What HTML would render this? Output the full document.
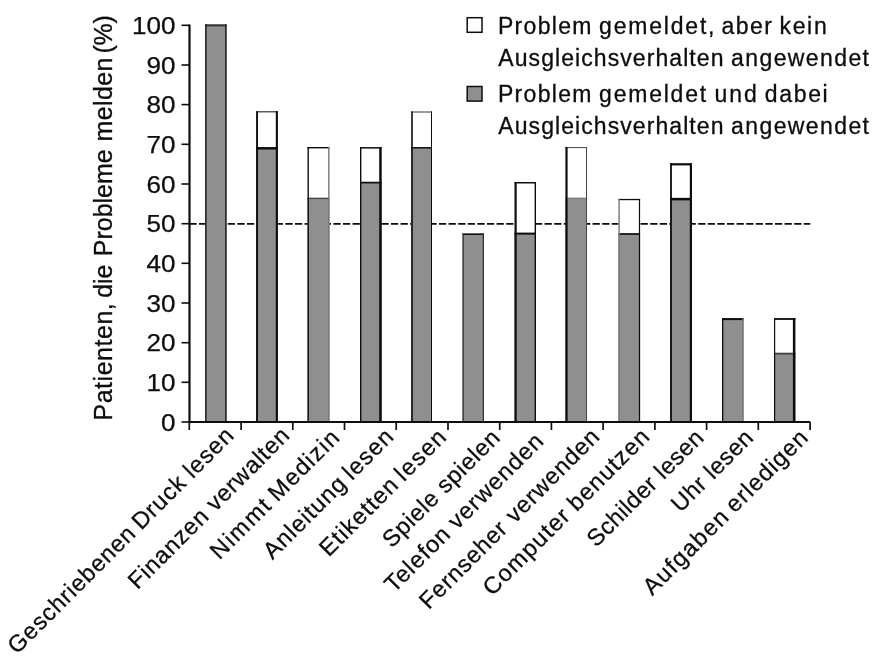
<!DOCTYPE html>
<html lang="de"><head><meta charset="utf-8"><title>Diagramm</title>
<style>
html,body{margin:0;padding:0;background:#fff}
svg{display:block;will-change:transform}
text{font-family:"Liberation Sans",Arial,Helvetica,sans-serif;fill:#0d0d0d;white-space:pre}
.tk{font-size:24.5px;text-anchor:end;stroke:#0d0d0d;stroke-width:0.25px}
.lg,.xl,.yt{stroke:#0d0d0d;stroke-width:0.3px}
.lg{font-size:23px}
.xl{font-size:23.5px}
.yt{font-size:25px}
</style></head><body>
<svg width="886" height="672" viewBox="0 0 886 672">
<rect width="886" height="672" fill="#fff"/>
<line x1="189.35" y1="223.9" x2="810.3" y2="223.9" stroke="#0d0d0d" stroke-width="1.7" stroke-dasharray="7.3 2.3"/>
<rect x="205.1" y="24.4" width="21.50" height="397.60" fill="#8f8f8f"/>
<rect x="205.1" y="24.4" width="21.50" height="2.0" fill="#333"/>
<rect x="205.1" y="24.4" width="1.5" height="397.60" fill="#222"/>
<rect x="225.10" y="24.4" width="1.5" height="397.60" fill="#222"/>
<rect x="256.1" y="111.2" width="21.80" height="37.10" fill="#fff"/>
<rect x="256.1" y="148.3" width="21.80" height="273.70" fill="#8f8f8f"/>
<rect x="256.1" y="147.05" width="21.80" height="2.5" fill="#0d0d0d"/>
<rect x="256.1" y="111.2" width="21.80" height="1.2" fill="#333"/>
<rect x="256.1" y="111.2" width="1.9" height="310.80" fill="#0d0d0d"/>
<rect x="275.80" y="111.2" width="2.1" height="310.80" fill="#0d0d0d"/>
<rect x="307.5" y="147.0" width="22.00" height="51.40" fill="#fff"/>
<rect x="307.5" y="198.4" width="22.00" height="223.60" fill="#8f8f8f"/>
<rect x="307.5" y="197.70" width="22.00" height="1.4" fill="#444"/>
<rect x="307.5" y="147.0" width="22.00" height="1.4" fill="#0d0d0d"/>
<rect x="307.5" y="147.0" width="1.4" height="275.00" fill="#0d0d0d"/>
<rect x="328.10" y="147.0" width="1.4" height="275.00" fill="#777"/>
<rect x="360.0" y="147.1" width="21.70" height="35.50" fill="#fff"/>
<rect x="360.0" y="182.6" width="21.70" height="239.40" fill="#8f8f8f"/>
<rect x="360.0" y="181.75" width="21.70" height="1.7" fill="#0d0d0d"/>
<rect x="360.0" y="147.1" width="21.70" height="1.5" fill="#0d0d0d"/>
<rect x="360.0" y="147.1" width="1.4" height="274.90" fill="#0d0d0d"/>
<rect x="379.20" y="147.1" width="2.5" height="274.90" fill="#0d0d0d"/>
<rect x="411.2" y="111.4" width="20.80" height="36.40" fill="#fff"/>
<rect x="411.2" y="147.8" width="20.80" height="274.20" fill="#8f8f8f"/>
<rect x="411.2" y="147.05" width="20.80" height="1.5" fill="#0d0d0d"/>
<rect x="411.2" y="111.4" width="20.80" height="1.2" fill="#555"/>
<rect x="411.2" y="111.4" width="1.6" height="310.60" fill="#0d0d0d"/>
<rect x="431.00" y="111.4" width="1.0" height="310.60" fill="#0d0d0d"/>
<rect x="462.5" y="233.5" width="21.50" height="188.50" fill="#8f8f8f"/>
<rect x="462.5" y="233.5" width="21.50" height="1.5" fill="#0d0d0d"/>
<rect x="462.5" y="233.5" width="1.3" height="188.50" fill="#333"/>
<rect x="482.70" y="233.5" width="1.3" height="188.50" fill="#333"/>
<rect x="514.5" y="182.0" width="21.50" height="51.60" fill="#fff"/>
<rect x="514.5" y="233.6" width="21.50" height="188.40" fill="#8f8f8f"/>
<rect x="514.5" y="232.60" width="21.50" height="2.0" fill="#0d0d0d"/>
<rect x="514.5" y="182.0" width="21.50" height="1.5" fill="#0d0d0d"/>
<rect x="514.5" y="182.0" width="2.2" height="240.00" fill="#0d0d0d"/>
<rect x="534.60" y="182.0" width="1.4" height="240.00" fill="#0d0d0d"/>
<rect x="565.4" y="147.0" width="21.60" height="51.20" fill="#fff"/>
<rect x="565.4" y="198.2" width="21.60" height="223.80" fill="#8f8f8f"/>
<rect x="565.4" y="197.70" width="21.60" height="1.0" fill="#666"/>
<rect x="565.4" y="147.0" width="21.60" height="1.1" fill="#555"/>
<rect x="565.4" y="147.0" width="2.2" height="275.00" fill="#0d0d0d"/>
<rect x="586.00" y="147.0" width="1.0" height="275.00" fill="#444"/>
<rect x="618.4" y="198.9" width="21.70" height="35.10" fill="#fff"/>
<rect x="618.4" y="234.0" width="21.70" height="188.00" fill="#8f8f8f"/>
<rect x="618.4" y="233.15" width="21.70" height="1.7" fill="#0d0d0d"/>
<rect x="618.4" y="198.9" width="21.70" height="1.3" fill="#0d0d0d"/>
<rect x="618.4" y="198.9" width="1.4" height="223.10" fill="#777"/>
<rect x="638.90" y="198.9" width="1.2" height="223.10" fill="#0d0d0d"/>
<rect x="670.1" y="163.2" width="21.90" height="35.90" fill="#fff"/>
<rect x="670.1" y="199.1" width="21.90" height="222.90" fill="#8f8f8f"/>
<rect x="670.1" y="197.85" width="21.90" height="2.5" fill="#0d0d0d"/>
<rect x="670.1" y="163.2" width="21.90" height="2.2" fill="#0d0d0d"/>
<rect x="670.1" y="163.2" width="1.8" height="258.80" fill="#0d0d0d"/>
<rect x="689.80" y="163.2" width="2.2" height="258.80" fill="#0d0d0d"/>
<rect x="722.0" y="318.1" width="21.60" height="103.90" fill="#8f8f8f"/>
<rect x="722.0" y="318.1" width="21.60" height="2.0" fill="#0d0d0d"/>
<rect x="722.0" y="318.1" width="1.3" height="103.90" fill="#0d0d0d"/>
<rect x="742.20" y="318.1" width="1.4" height="103.90" fill="#777"/>
<rect x="774.0" y="318.1" width="21.40" height="35.50" fill="#fff"/>
<rect x="774.0" y="353.6" width="21.40" height="68.40" fill="#8f8f8f"/>
<rect x="774.0" y="352.70" width="21.40" height="1.8" fill="#444"/>
<rect x="774.0" y="318.1" width="21.40" height="1.8" fill="#0d0d0d"/>
<rect x="774.0" y="318.1" width="1.2" height="103.90" fill="#0d0d0d"/>
<rect x="792.90" y="318.1" width="2.5" height="103.90" fill="#0d0d0d"/>
<line x1="189.5" y1="24.4" x2="189.5" y2="423.0" stroke="#0d0d0d" stroke-width="2.2"/>
<line x1="188.35" y1="422.0" x2="810.3" y2="422.0" stroke="#0d0d0d" stroke-width="2.2"/>
<line x1="181.5" y1="422.0" x2="189.35" y2="422.0" stroke="#0d0d0d" stroke-width="1.6"/>
<text class="tk" x="175.6" y="430.7" textLength="14.5" lengthAdjust="spacingAndGlyphs">0</text>
<line x1="181.5" y1="382.3" x2="189.35" y2="382.3" stroke="#0d0d0d" stroke-width="1.6"/>
<text class="tk" x="175.6" y="391.0" textLength="29.0" lengthAdjust="spacingAndGlyphs">10</text>
<line x1="181.5" y1="342.7" x2="189.35" y2="342.7" stroke="#0d0d0d" stroke-width="1.6"/>
<text class="tk" x="175.6" y="351.4" textLength="29.0" lengthAdjust="spacingAndGlyphs">20</text>
<line x1="181.5" y1="303.0" x2="189.35" y2="303.0" stroke="#0d0d0d" stroke-width="1.6"/>
<text class="tk" x="175.6" y="311.7" textLength="29.0" lengthAdjust="spacingAndGlyphs">30</text>
<line x1="181.5" y1="263.3" x2="189.35" y2="263.3" stroke="#0d0d0d" stroke-width="1.6"/>
<text class="tk" x="175.6" y="272.0" textLength="29.0" lengthAdjust="spacingAndGlyphs">40</text>
<line x1="181.5" y1="223.7" x2="189.35" y2="223.7" stroke="#0d0d0d" stroke-width="1.6"/>
<text class="tk" x="175.6" y="232.3" textLength="29.0" lengthAdjust="spacingAndGlyphs">50</text>
<line x1="181.5" y1="184.0" x2="189.35" y2="184.0" stroke="#0d0d0d" stroke-width="1.6"/>
<text class="tk" x="175.6" y="192.7" textLength="29.0" lengthAdjust="spacingAndGlyphs">60</text>
<line x1="181.5" y1="144.3" x2="189.35" y2="144.3" stroke="#0d0d0d" stroke-width="1.6"/>
<text class="tk" x="175.6" y="153.0" textLength="29.0" lengthAdjust="spacingAndGlyphs">70</text>
<line x1="181.5" y1="104.6" x2="189.35" y2="104.6" stroke="#0d0d0d" stroke-width="1.6"/>
<text class="tk" x="175.6" y="113.3" textLength="29.0" lengthAdjust="spacingAndGlyphs">80</text>
<line x1="181.5" y1="65.0" x2="189.35" y2="65.0" stroke="#0d0d0d" stroke-width="1.6"/>
<text class="tk" x="175.6" y="73.7" textLength="29.0" lengthAdjust="spacingAndGlyphs">90</text>
<line x1="181.5" y1="25.3" x2="189.35" y2="25.3" stroke="#0d0d0d" stroke-width="1.6"/>
<text class="tk" x="175.6" y="34.0" textLength="43.5" lengthAdjust="spacingAndGlyphs">100</text>
<line x1="189.3" y1="422.0" x2="189.3" y2="430" stroke="#0d0d0d" stroke-width="1.7"/>
<line x1="241.1" y1="422.0" x2="241.1" y2="430" stroke="#0d0d0d" stroke-width="1.7"/>
<line x1="292.8" y1="422.0" x2="292.8" y2="430" stroke="#0d0d0d" stroke-width="1.7"/>
<line x1="344.5" y1="422.0" x2="344.5" y2="430" stroke="#0d0d0d" stroke-width="1.7"/>
<line x1="396.2" y1="422.0" x2="396.2" y2="430" stroke="#0d0d0d" stroke-width="1.7"/>
<line x1="448.0" y1="422.0" x2="448.0" y2="430" stroke="#0d0d0d" stroke-width="1.7"/>
<line x1="499.7" y1="422.0" x2="499.7" y2="430" stroke="#0d0d0d" stroke-width="1.7"/>
<line x1="551.4" y1="422.0" x2="551.4" y2="430" stroke="#0d0d0d" stroke-width="1.7"/>
<line x1="603.1" y1="422.0" x2="603.1" y2="430" stroke="#0d0d0d" stroke-width="1.7"/>
<line x1="654.9" y1="422.0" x2="654.9" y2="430" stroke="#0d0d0d" stroke-width="1.7"/>
<line x1="706.6" y1="422.0" x2="706.6" y2="430" stroke="#0d0d0d" stroke-width="1.7"/>
<line x1="758.3" y1="422.0" x2="758.3" y2="430" stroke="#0d0d0d" stroke-width="1.7"/>
<line x1="810.1" y1="422.0" x2="810.1" y2="430" stroke="#0d0d0d" stroke-width="1.7"/>
<rect x="467.2" y="17.7" width="14.8" height="14.6" fill="#fff" stroke="#0d0d0d" stroke-width="1.5"/>
<rect x="467.2" y="86.5" width="14.8" height="14.6" fill="#8f8f8f" stroke="#0d0d0d" stroke-width="1.5"/>
<text class="lg" transform="translate(499.70,33.70)" x="-1.80" y="0" style="letter-spacing:1.319px">Problem</text>
<text class="lg" transform="translate(600.00,33.70)" x="-0.90" y="0" style="letter-spacing:1.798px">gemeldet,</text>
<text class="lg" transform="translate(722.30,33.70)" x="-0.90" y="0" style="letter-spacing:1.508px">aber</text>
<text class="lg" transform="translate(781.00,33.70)" x="-1.50" y="0" style="letter-spacing:1.666px">kein</text>
<text class="lg" transform="translate(498.30,65.90)" x="0.00" y="0" style="letter-spacing:1.075px">Ausgleichsverhalten</text>
<text class="lg" transform="translate(732.00,65.90)" x="-0.90" y="0" style="letter-spacing:1.395px">angewendet</text>
<text class="lg" transform="translate(499.70,101.60)" x="-1.80" y="0" style="letter-spacing:1.319px">Problem</text>
<text class="lg" transform="translate(600.00,101.60)" x="-0.90" y="0" style="letter-spacing:1.768px">gemeldet</text>
<text class="lg" transform="translate(715.80,101.60)" x="-1.40" y="0" style="letter-spacing:2.058px">und</text>
<text class="lg" transform="translate(765.70,101.60)" x="-0.90" y="0" style="letter-spacing:1.658px">dabei</text>
<text class="lg" transform="translate(498.30,133.90)" x="0.00" y="0" style="letter-spacing:1.075px">Ausgleichsverhalten</text>
<text class="lg" transform="translate(732.00,133.90)" x="-0.90" y="0" style="letter-spacing:1.395px">angewendet</text>
<text class="yt" transform="translate(111.50,418.50) rotate(-90)" x="-2.00" y="0" style="letter-spacing:0.518px">Patienten,</text>
<text class="yt" transform="translate(111.50,296.70) rotate(-90)" x="-1.00" y="0" style="letter-spacing:-0.179px">die</text>
<text class="yt" transform="translate(111.50,254.20) rotate(-90)" x="-2.00" y="0" style="letter-spacing:-0.013px">Probleme</text>
<text class="yt" transform="translate(111.50,139.90) rotate(-90)" x="-1.60" y="0" style="letter-spacing:0.402px">melden</text>
<text class="yt" transform="translate(111.50,52.00) rotate(-90)" x="-1.50" y="0" style="letter-spacing:-0.327px">(%)</text>
<text class="xl" transform="translate(17.88,654.12) rotate(-45)" x="-1.10" y="0" style="letter-spacing:0.832px">Geschriebenen</text>
<text class="xl" transform="translate(142.47,529.53) rotate(-45)" x="-1.90" y="0" style="letter-spacing:0.947px">Druck</text>
<text class="xl" transform="translate(193.88,478.12) rotate(-45)" x="-1.50" y="0" style="letter-spacing:0.847px">lesen</text>
<text class="xl" transform="translate(138.94,588.86) rotate(-45)" x="-1.90" y="0" style="letter-spacing:0.789px">Finanzen</text>
<text class="xl" transform="translate(215.47,512.33) rotate(-45)" x="0.00" y="0" style="letter-spacing:0.733px">verwalten</text>
<text class="xl" transform="translate(220.76,559.24) rotate(-45)" x="-1.90" y="0" style="letter-spacing:1.761px">Nimmt</text>
<text class="xl" transform="translate(278.95,501.05) rotate(-45)" x="-1.90" y="0" style="letter-spacing:1.384px">Medizin</text>
<text class="xl" transform="translate(272.57,560.33) rotate(-45)" x="0.00" y="0" style="letter-spacing:0.980px">Anleitung</text>
<text class="xl" transform="translate(353.02,479.88) rotate(-45)" x="-1.50" y="0" style="letter-spacing:1.081px">lesen</text>
<text class="xl" transform="translate(330.11,556.14) rotate(-45)" x="-1.90" y="0" style="letter-spacing:1.085px">Etiketten</text>
<text class="xl" transform="translate(405.17,481.08) rotate(-45)" x="-1.50" y="0" style="letter-spacing:1.310px">lesen</text>
<text class="xl" transform="translate(392.48,547.92) rotate(-45)" x="-1.00" y="0" style="letter-spacing:0.657px">Spiele</text>
<text class="xl" transform="translate(446.25,494.15) rotate(-45)" x="-0.60" y="0" style="letter-spacing:0.626px">spielen</text>
<text class="xl" transform="translate(394.25,593.25) rotate(-45)" x="-0.50" y="0" style="letter-spacing:0.972px">Telefon</text>
<text class="xl" transform="translate(457.21,530.29) rotate(-45)" x="0.00" y="0" style="letter-spacing:1.121px">verwenden</text>
<text class="xl" transform="translate(430.04,608.91) rotate(-45)" x="-1.90" y="0" style="letter-spacing:0.734px">Fernseher</text>
<text class="xl" transform="translate(515.00,523.95) rotate(-45)" x="0.00" y="0" style="letter-spacing:0.794px">verwenden</text>
<text class="xl" transform="translate(492.98,595.97) rotate(-45)" x="-1.10" y="0" style="letter-spacing:1.251px">Computer</text>
<text class="xl" transform="translate(577.77,511.18) rotate(-45)" x="-1.50" y="0" style="letter-spacing:1.152px">benutzen</text>
<text class="xl" transform="translate(596.99,547.21) rotate(-45)" x="-1.00" y="0" style="letter-spacing:0.438px">Schilder</text>
<text class="xl" transform="translate(664.90,479.30) rotate(-45)" x="-1.50" y="0" style="letter-spacing:0.488px">lesen</text>
<text class="xl" transform="translate(681.70,512.00) rotate(-45)" x="-1.80" y="0" style="letter-spacing:0.613px">Uhr</text>
<text class="xl" transform="translate(714.48,479.22) rotate(-45)" x="-1.50" y="0" style="letter-spacing:0.456px">lesen</text>
<text class="xl" transform="translate(652.31,596.29) rotate(-45)" x="0.00" y="0" style="letter-spacing:1.298px">Aufgaben</text>
<text class="xl" transform="translate(735.50,513.10) rotate(-45)" x="-0.90" y="0" style="letter-spacing:1.081px">erledigen</text>
</svg></body></html>
